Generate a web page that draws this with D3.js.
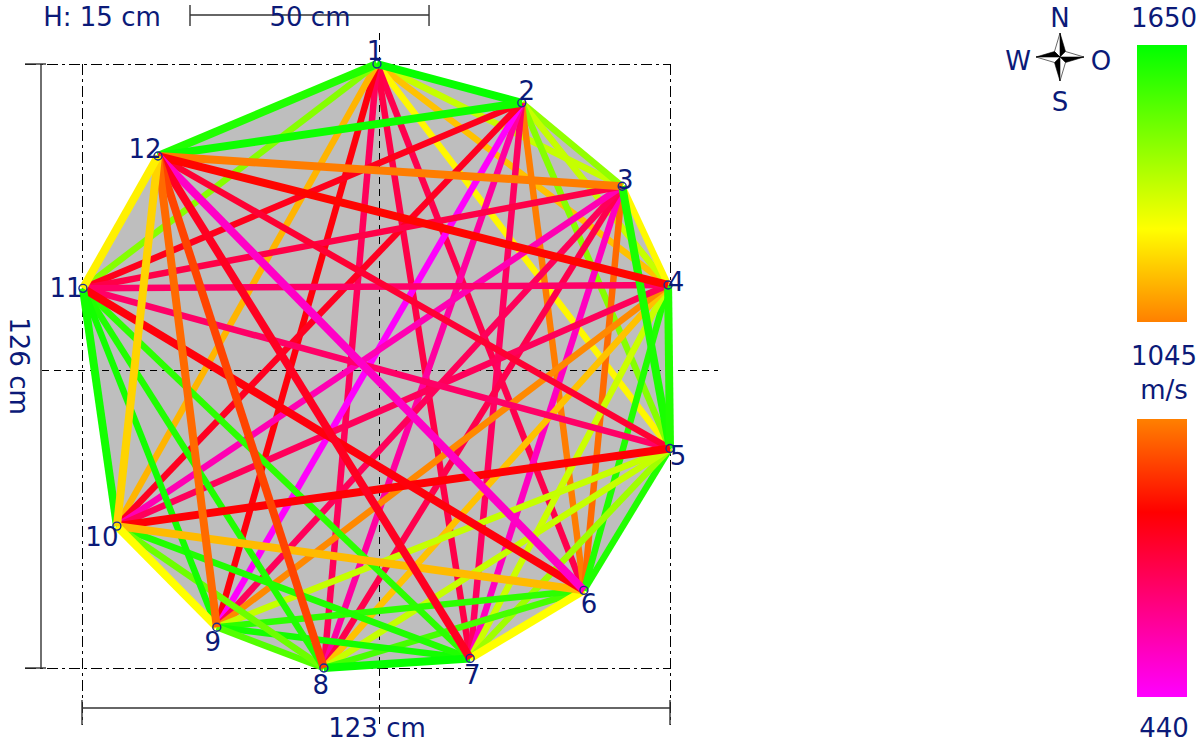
<!DOCTYPE html>
<html>
<head>
<meta charset="utf-8">
<script src="https://cdn.jsdelivr.net/npm/d3@7"></script>
<style>
  html, body { margin: 0; background: #fff; }
  svg { display: block; }
  text { font-family: "DejaVu Sans", sans-serif; fill: #0b1a78; }
</style>
</head>
<body>
<svg id="chart" width="1200" height="744"></svg>
<script>
// sensor positions on the trunk, cm from the top left corner of the box
const sensorIds = [1, 2, 3, 4, 5, 6, 7, 8, 9, 10, 11, 12]
const sensorX = [61.7, 92.0, 113.0, 122.6, 123.0, 105.0, 81.2, 50.6, 28.2, 7.3, 0.2, 15.9]
const sensorY = [0, 8.1, 25.5, 46.1, 80.2, 109.8, 124.0, 126.0, 117.5, 96.4, 46.8, 19.2]

// velocity in m/s per sensor, towards every sensor with a higher number
const velocities = [
    [1640, 1340, 1150, 1235, 720, 730, 700, 825, 1130, 1440, 1600],
    [1420, 1340, 1440, 1040, 690, 590, 445, 790, 800, 1630],
    [1240, 1610, 1010, 540, 720, 700, 560, 730, 1040],
    [1600, 1600, 1330, 1150, 1060, 700, 680, 850],
    [1600, 1400, 1340, 1340, 835, 680, 760],
    [1248, 1540, 1580, 1140, 825, 530],
    [1640, 1620, 1600, 1580, 790],
    [1520, 1480, 1600, 950],
    [1248, 1620, 1010],
    [1620, 1180],
    [1225]
]

// these paths are drawn heavier in the original
const heavyPaths = ["1-2", "1-12", "2-12", "3-5", "3-12", "4-5", "4-12", "5-10", "6-7", "6-10",
    "6-11", "6-12", "7-8", "7-12", "8-12", "9-10", "9-12", "10-11", "10-12", "11-12"]

const velocityStops = [1650, 1248, 1045, 842, 440]
const stopColors = ["#00ff00", "#ffff00", "#ff8000", "#ff0000", "#ff00ff"]
const boxWidth = 123
const boxHeight = 126
const scaleBarLength = 50
const treeHeight = 15

const x = d3.scaleLinear().domain([0, boxWidth]).range([82, 670])
const y = d3.scaleLinear().domain([0, boxHeight]).range([64, 668])
const color = d3.scaleLinear().domain(velocityStops).range(stopColors)

const svg = d3.select("#chart")
const ink = "#333"

const sensors = sensorIds.map((id, i) => ({ id, cx: x(sensorX[i]), cy: y(sensorY[i]) }))

// gray section
svg.append("polygon")
    .attr("points", sensors.map(d => [d.cx, d.cy].join(",")).join(" "))
    .attr("fill", "#bebebe")

// guides
const guides = [
    [x(0) - 57, y(0), x(boxWidth), y(0), "11 4 3 4"],
    [x(0) - 57, y(boxHeight), x(boxWidth), y(boxHeight), "11 4 3 4"],
    [x(0), y(0), x(0), y(boxHeight) + 57, "11 4 3 4"],
    [x(boxWidth), y(0), x(boxWidth), y(boxHeight) + 57, "11 4 3 4"],
    [42, 370, 718, 370, "7 5"],
    [379, 33, 379, 725, "7 5"]
]
svg.append("g").selectAll("line").data(guides).join("line")
    .attr("x1", d => d[0]).attr("y1", d => d[1])
    .attr("x2", d => d[2]).attr("y2", d => d[3])
    .attr("stroke", "#000").attr("stroke-width", 1)
    .attr("shape-rendering", "crispEdges")
    .attr("stroke-dasharray", d => d[4])

// paths between sensors, heavy ones on top
const paths = []
velocities.forEach((row, i) => row.forEach((v, k) => {
    const a = sensors[i], b = sensors[i + k + 1]
    paths.push({ a, b, v, heavy: heavyPaths.includes(a.id + "-" + b.id) })
}))
paths.sort((p, q) => p.heavy - q.heavy)

svg.append("g").selectAll("line").data(paths).join("line")
    .attr("x1", d => d.a.cx).attr("y1", d => d.a.cy)
    .attr("x2", d => d.b.cx).attr("y2", d => d.b.cy)
    .attr("stroke", d => color(d.v))
    .attr("stroke-width", d => d.heavy ? 8 : 6.5)

// sensors
svg.append("g").selectAll("circle").data(sensors).join("circle")
    .attr("cx", d => d.cx).attr("cy", d => d.cy).attr("r", 4)
    .attr("fill", "none").attr("stroke", "#1a2a90").attr("stroke-width", 1.4)

const labelShift = {
    1: [-2, -13], 2: [5, -12], 3: [3, -7], 4: [8, -3], 5: [8, 7], 6: [5, 13],
    7: [2, 16], 8: [-3, 17], 9: [-4, 14], 10: [-15, 11], 11: [-17, -1], 12: [-13, -7]
}
svg.append("g").selectAll("text").data(sensors).join("text")
    .attr("x", d => d.cx + labelShift[d.id][0])
    .attr("y", d => d.cy + labelShift[d.id][1])
    .attr("text-anchor", "middle").attr("dy", "0.36em")
    .attr("font-size", 26)
    .text(d => d.id)

// dimension lines
const dims = [
    [41, y(0), 41, y(boxHeight)],
    [25, y(0), 46, y(0)],
    [25, y(boxHeight), 46, y(boxHeight)],
    [x(0), 708, x(boxWidth), 708],
    [x(0), 700, x(0), 725],
    [x(boxWidth), 700, x(boxWidth), 725],
    [x(0) + 108, 15, x(scaleBarLength) + 108, 15],
    [x(0) + 108, 5, x(0) + 108, 26],
    [x(scaleBarLength) + 108, 5, x(scaleBarLength) + 108, 26]
]
svg.append("g").selectAll("line").data(dims).join("line")
    .attr("x1", d => d[0]).attr("y1", d => d[1])
    .attr("x2", d => d[2]).attr("y2", d => d[3])
    .attr("stroke", ink).attr("stroke-width", 1.4)

const label = (tx, ty, s, rot) => svg.append("text")
    .attr("transform", `translate(${tx},${ty})` + (rot ? ` rotate(${rot})` : ""))
    .attr("text-anchor", "middle").attr("font-size", 26)
    .text(s)

label(102, 26, `H: ${treeHeight} cm`)
label(310, 26, `${scaleBarLength} cm`)
label(377, 737, `${boxWidth} cm`)
label(10, 366, `${boxHeight} cm`, 90)

// colour bars
const bars = [
    { id: "barHigh", from: 1650, to: 1045, top: 45, bottom: 322 },
    { id: "barLow", from: 1045, to: 440, top: 419, bottom: 697 }
]
const defs = svg.append("defs")
bars.forEach(b => {
    const g = defs.append("linearGradient").attr("id", b.id)
        .attr("x1", 0).attr("y1", 0).attr("x2", 0).attr("y2", 1)
    const pos = d3.scaleLinear().domain([b.from, b.to]).range([0, 1])
    g.selectAll("stop")
        .data(velocityStops.filter(v => v <= b.from && v >= b.to))
        .join("stop")
        .attr("offset", d => pos(d))
        .attr("stop-color", d => color(d))
    svg.append("rect")
        .attr("x", 1137).attr("y", b.top).attr("width", 50).attr("height", b.bottom - b.top)
        .attr("fill", `url(#${b.id})`)
})
label(1164, 27, "1650")
label(1164, 365, "1045")
label(1164, 399, "m/s")
label(1164, 737, "440")

// compass
const cx = 1060, cy = 57, arm = 24, waist = 5.5
const facet = (dx, dy, sx, sy, fill) => svg.append("polygon")
    .attr("points", [[cx, cy], [cx + dx * arm, cy + dy * arm], [cx + sx * waist, cy + sy * waist]].map(p => p.join(",")).join(" "))
    .attr("fill", fill).attr("stroke", "#000").attr("stroke-width", 0.6)
facet(0, -1, 1, -1, "#000")
facet(0, -1, -1, -1, "#fff")
facet(1, 0, 1, 1, "#000")
facet(1, 0, 1, -1, "#fff")
facet(0, 1, -1, 1, "#000")
facet(0, 1, 1, 1, "#fff")
facet(-1, 0, -1, -1, "#000")
facet(-1, 0, -1, 1, "#fff")
label(1060, 27, "N")
label(1018, 70, "W")
label(1101, 70, "O")
label(1060, 111, "S")
</script>
</body>
</html>
